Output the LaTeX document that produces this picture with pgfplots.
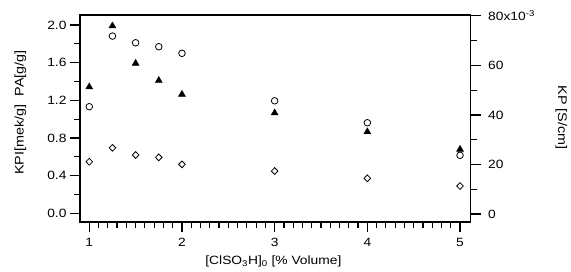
\documentclass[border=0pt]{standalone}
\usepackage{fontspec}
\setmainfont{Liberation Sans}[FakeStretch=1.15]
\usepackage{pgfplots}
\pgfplotsset{compat=1.18}
\begin{document}
\begin{tikzpicture}
\useasboundingbox[fill=white] (-80bp,-50bp) rectangle (491bp,222bp);
\pgfplotsset{
  common/.style={
    scale only axis, width=390.7bp, height=207bp,
    at={(0,0)}, anchor=south west,
    xmin=0.9, xmax=5.115,
    tick align=outside,
    major tick length=10bp, minor tick length=6bp,
    every tick/.style={black, line width=1.2bp},
    every minor tick/.style={black, line width=1.2bp},
    axis line style={line width=1.5bp},
    /pgf/number format/assume math mode=true,
    tick label style={font=\fontsize{12bp}{14bp}\selectfont},
  }
}
\begin{axis}[common,
  ymin=-0.092, ymax=2.106,
  xtick={1,2,3,4,5}, minor x tick num=9,
  ytick={0,0.4,0.8,1.2,1.6,2.0}, minor y tick num=1,
  yticklabels={0.0,0.4,0.8,1.2,1.6,2.0},
  xticklabel style={yshift=-3bp},
  xtick pos=bottom, ytick pos=left,
  xlabel={[ClSO\textsubscript{3}H]\textsubscript{0} [\% Volume]},
  every axis x label/.style={at={(axis description cs:0.495,-0.205)}, anchor=base, font=\fontsize{12bp}{14bp}\selectfont},
  ylabel={KPI[mek/g]\ \ PA[g/g]},
  every axis y label/.style={at={(axis description cs:-0.1523,0.529)}, anchor=center, rotate=90, font=\fontsize{12.5bp}{15bp}\selectfont},
]
\addplot[only marks, mark=o, mark size=3.3bp, mark options={line width=0.8bp}] coordinates {
(1,1.132) (1.25,1.882) (1.5,1.811) (1.75,1.769) (2,1.699) (3,1.195) (4,0.962) (5,0.616)};
\addplot[only marks, mark=diamond, mark size=3.4bp, mark options={line width=0.8bp, xscale=1.3}] coordinates {
(1,0.548) (1.25,0.696) (1.5,0.619) (1.75,0.594) (2,0.520) (3,0.449) (4,0.372) (5,0.290)};
\end{axis}
\begin{axis}[common,
  ymin=-3.2, ymax=80.3,
  axis x line=none, axis y line*=right,
  ytick={0,20,40,60,80}, minor y tick num=1,
  yticklabels={0,20,40,60,{80x10\textsuperscript{-3}}},
  yticklabel style={anchor=west, xshift=4bp},
  ylabel={KP [S/cm]},
  every axis y label/.style={at={(axis description cs:1.232,0.505)}, anchor=center, rotate=-90, font=\fontsize{12.5bp}{15bp}\selectfont},
]
\addplot[only marks, mark=triangle*, mark size=4bp, fill=black] coordinates {
(1,51.3) (1.25,75.9) (1.5,60.8) (1.75,53.9) (2,48.3) (3,40.8) (4,33.2) (5,26.1)};
\end{axis}
\end{tikzpicture}
\end{document}
